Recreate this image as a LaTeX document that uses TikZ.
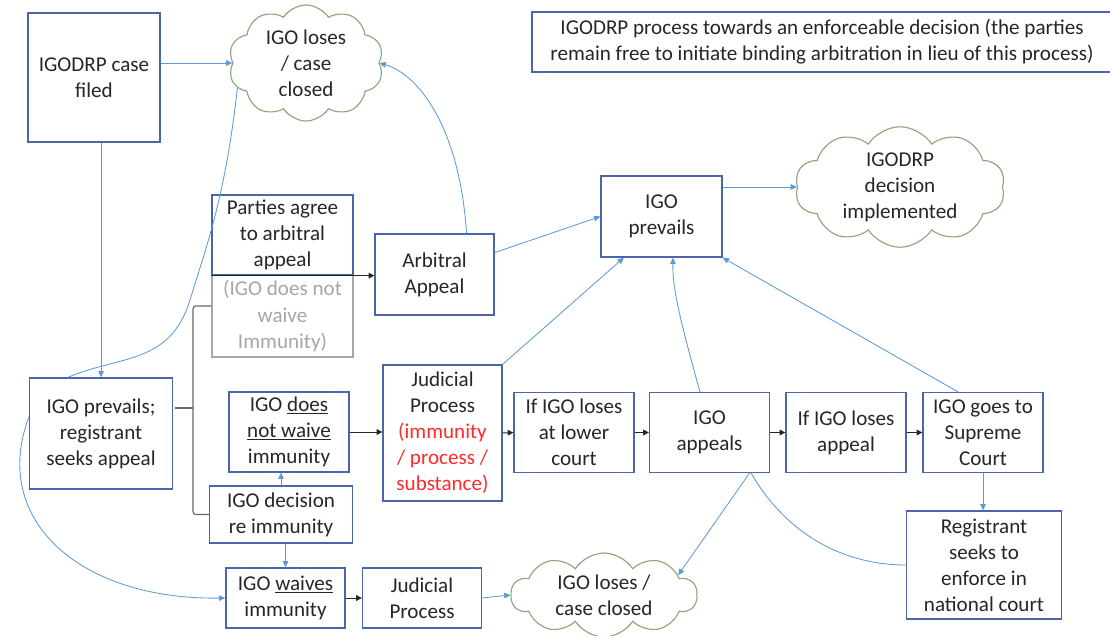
\documentclass[tikz,border=0pt]{standalone}
\usepackage{fontspec}
\setmainfont{Carlito}
\usetikzlibrary{arrows.meta,shapes.symbols}

\definecolor{boxblue}{HTML}{4A65A8}
\definecolor{linkblue}{HTML}{5B9BD5}
\definecolor{cloudgreen}{HTML}{8BA67A}
\definecolor{notegray}{HTML}{A6A6A6}
\definecolor{inkgray}{HTML}{262626}
\definecolor{procred}{HTML}{FF2A2A}

\tikzset{
  box/.style={draw=boxblue, line width=0.9pt, align=center, inner sep=0pt, text=inkgray},
  cloudnode/.style={cloud, draw=cloudgreen, line width=0.8pt, cloud puffs=10,
    cloud puff arc=115, cloud ignores aspect, align=center, inner sep=0pt, text=inkgray},
  blueline/.style={draw=linkblue, line width=0.6pt, -{Triangle[length=4.5pt,width=4pt]}},
  blackline/.style={draw=black!85, line width=0.7pt, -{Triangle[length=4pt,width=4pt]}},
  plainline/.style={draw=linkblue, line width=0.6pt},
  bracket/.style={draw=black!60, line width=0.8pt, rounded corners=2pt}
}

\begin{document}
\begin{tikzpicture}[x=0.025cm, y=-0.025cm, font=\fontsize{15}{18.5}\selectfont]
  \useasboundingbox (0,0) rectangle (1110,636);

  % top row
  \node[box, minimum width=3.3cm, minimum height=3.225cm] (filed) at (94,77.5) {IGODRP case\\filed};
  \node[cloudnode, minimum width=3.875cm, minimum height=2.9cm] (lost) at (306,63) {IGO loses\\/ case\\closed};
  \node[box, minimum width=14.7cm, minimum height=1.5cm] (title) at (826,42) {};
  \node[text=inkgray, align=center] (titletext) at (822,42)
    {IGODRP process towards an enforceable decision (the parties\\remain free to initiate binding arbitration in lieu of this process)};

  % arbitral branch
  \node[box, draw=notegray, text=notegray, minimum width=3.525cm, minimum height=2.05cm] (nowaivenote) at (282.5,316)
    {(IGO does not\\waive\\Immunity)};
  \node[box, minimum width=3.525cm, minimum height=2cm] (agree) at (282.5,235) {Parties agree\\to arbitral\\appeal};
  \node[box, minimum width=2.975cm, minimum height=2.025cm] (arbitral) at (434.5,274.5) {Arbitral\\Appeal};
  \node[box, minimum width=3.025cm, minimum height=2.025cm] (prevails) at (661.5,216.5) {IGO\\prevails};
  \node[cloudnode, minimum width=5.25cm, minimum height=2.9cm] (done) at (900,187) {IGODRP\\decision\\implemented};

  % judicial branch
  \node[box, minimum width=3.575cm, minimum height=2.775cm] (seek) at (101,433.5) {IGO prevails;\\registrant\\seeks appeal};
  \node[box, minimum width=3cm, minimum height=2cm] (nowaive) at (289,432) {IGO \underline{does}\\\underline{not waive}\\immunity};
  \node[box, minimum width=3.575cm, minimum height=1.425cm] (decide) at (281,514.5) {IGO decision\\re immunity};
  \node[box, minimum width=2.975cm, minimum height=3.4cm] (court) at (442.5,433)
    {Judicial\\Process\\\textcolor{procred}{(immunity}\\\textcolor{procred}{/ process /}\\\textcolor{procred}{substance)}};
  \foreach \n/\x/\txt in {lower/574/{If IGO loses\\at lower\\court}, appeal/709.5/{IGO\\appeals},
      lostappeal/846/{If IGO loses\\appeal}, supreme/983/{IGO goes to\\Supreme\\Court}}
    \node[box, minimum width=3cm, minimum height=2cm] (\n) at (\x,432.5) {\txt};
  \node[box, minimum width=3.875cm, minimum height=2.7cm] (enforce) at (984,565) {Registrant\\seeks to\\enforce in\\national court};
  \node[box, minimum width=2.975cm, minimum height=1.5cm] (waives) at (285.5,598) {IGO \underline{waives}\\immunity};
  \node[box, minimum width=2.975cm, minimum height=1.5cm] (court2) at (422,598) {Judicial\\Process};
  \node[cloudnode, minimum width=4.65cm, minimum height=2.1cm] (lost2) at (604,595) {IGO loses /\\case closed};

  % bracket
  \draw[bracket] ([yshift=0.25cm]nowaivenote.west) -| (193,408) |- (decide.west);
  \draw[bracket] (193,408) -- (175,408);

  % connectors
  \draw[blueline] (filed.east |- lost.west) -- (lost.west);
  \draw[blueline] (filed.south -| seek.north) -- (seek.north);
  \draw[plainline] ([xshift=-0.825cm]seek.north) .. controls (120,355) and (170,365) .. (190,300)
    .. controls (205,250) and (225,200) .. (lost.200);
  \draw[blueline] ([xshift=0.8cm]arbitral.north) .. controls (460,130) and (420,75) .. (lost.east);
  \draw[blackline] (agree.south west) -- (agree.south west -| arbitral.west);
  \draw[blueline] (arbitral.20) -- (prevails.west);
  \draw[blueline] (prevails.east |- done.west) -- (done.west);
  \draw[blueline] (court.north east) -- ([xshift=-0.94cm]prevails.south);
  \draw[blueline] ([xshift=-0.24cm]appeal.north) .. controls (683,330) and (672,290) .. ([xshift=0.29cm]prevails.south);
  \draw[blueline] ([xshift=-0.625cm]supreme.north) -- (prevails.south east);
  \draw[blueline] ([yshift=0.41cm]seek.west) .. controls (-10,520) and (80,600) .. (waives.west);
  \draw[blackline] (nowaive.east) -- (nowaive.east -| court.west);
  \draw[blueline] (decide.north) -- (decide.north |- nowaive.south);
  \draw[blueline] (waives.north |- decide.south) -- (waives.north);
  \draw[blackline] (waives.east) -- (court2.west);
  \draw[blueline] (court2.east) -- (lost2.west);
  \foreach \a/\b in {court/lower, lower/appeal, appeal/lostappeal, lostappeal/supreme}
    \draw[blackline] (\a.east) -- (\b.west);
  \draw[blueline] (supreme.south) -- (supreme.south |- enforce.north);
  \draw[blueline] ([xshift=1cm]appeal.south) -- (lost2.15);
  \draw[plainline] ([xshift=1.04cm]appeal.south) .. controls (790,540) and (850,565) .. (enforce.west);
\end{tikzpicture}
\end{document}
